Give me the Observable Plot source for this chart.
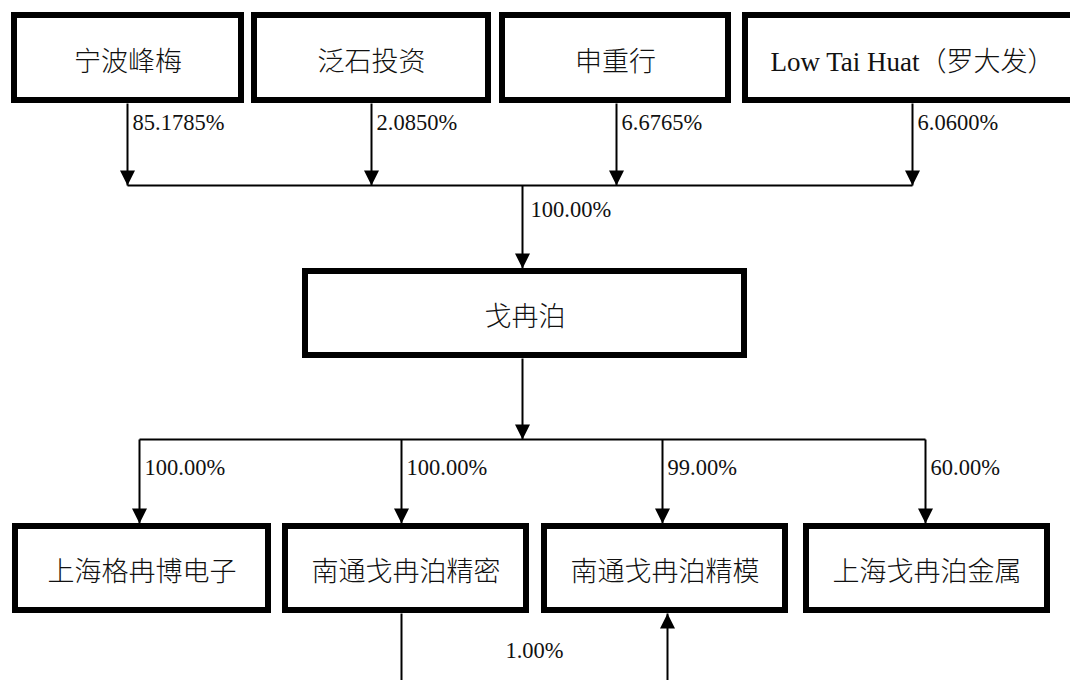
<!DOCTYPE html>
<html>
<head>
<meta charset="utf-8">
<script src="https://cdn.jsdelivr.net/npm/d3@7"></script>
<script src="https://cdn.jsdelivr.net/npm/@observablehq/plot@0.6"></script>
<style>
  html, body { margin: 0; padding: 0; background: #fff; overflow: hidden; }
  #chart svg { display: block; }
</style>
</head>
<body>
<div id="chart"></div>
<script>
// ---------------- DATA ----------------
const shareholders = ["宁波峰梅", "泛石投资", "申重行", "Low Tai Huat（罗大发）"];
const shareholderPct = ["85.1785%", "2.0850%", "6.6765%", "6.0600%"];
const company = "戈冉泊";
const companyPct = "100.00%";
const subsidiaries = ["上海格冉博电子", "南通戈冉泊精密", "南通戈冉泊精模", "上海戈冉泊金属"];
const subsidiaryPct = ["100.00%", "100.00%", "99.00%", "60.00%"];
const crossFrom = "南通戈冉泊精密";
const crossTo = "南通戈冉泊精模";
const crossPct = "1.00%";

// ---------------- LAYOUT (diagram geometry) ----------------
const W = 1070, H = 680;
const layout = {
  top: { y1: 12, y2: 103, boxes: [[11, 244], [251, 491], [499, 731], [742, 1082]], arrowX: [127, 371, 616, 912] },
  busTop: 185,
  mid: { x1: 302, x2: 747, y1: 268, y2: 358, stemX: 522 },
  busBottom: 439,
  bottom: { y1: 523, y2: 613, boxes: [[12, 271], [282, 529], [541, 788], [803, 1050]], arrowX: [139, 401, 662, 925] },
  crossX: [401, 667],
  crossBottom: 700
};
const BORDER = 6, LINE = 2;
const serif = "Liberation Serif, Times New Roman, Noto Sans CJK SC, serif";

// boxes
const boxes = [
  ...shareholders.map((name, i) => ({ name, x1: layout.top.boxes[i][0], x2: layout.top.boxes[i][1], y1: layout.top.y1, y2: layout.top.y2 })),
  { name: company, x1: layout.mid.x1, x2: layout.mid.x2, y1: layout.mid.y1, y2: layout.mid.y2 },
  ...subsidiaries.map((name, i) => ({ name, x1: layout.bottom.boxes[i][0], x2: layout.bottom.boxes[i][1], y1: layout.bottom.y1, y2: layout.bottom.y2 }))
];
const boxRects = boxes.map(b => ({ ...b, x1: b.x1 + BORDER / 2, x2: b.x2 - BORDER / 2, y1: b.y1 + BORDER / 2, y2: b.y2 - BORDER / 2 }));
const boxLabels = boxes.map(b => ({ name: b.name, x: (b.x1 + b.x2) / 2, y: (b.y1 + b.y2) / 2 + 4 }));

// connector lines
const links = [];
const heads = [];   // tip positions
const pctLabels = [];
shareholders.forEach((s, i) => {
  const x = layout.top.arrowX[i];
  links.push({ x1: x, y1: layout.top.y2, x2: x, y2: layout.busTop });
  heads.push({ x, y: layout.busTop, rot: 0 });
  pctLabels.push({ text: shareholderPct[i], x: x + 5, y: 122 });
});
links.push({ x1: layout.top.arrowX[0], y1: layout.busTop, x2: layout.top.arrowX[3], y2: layout.busTop });
links.push({ x1: layout.mid.stemX, y1: layout.busTop, x2: layout.mid.stemX, y2: layout.mid.y1 });
heads.push({ x: layout.mid.stemX, y: layout.mid.y1, rot: 0 });
pctLabels.push({ text: companyPct, x: layout.mid.stemX + 8, y: 209 });
links.push({ x1: layout.mid.stemX, y1: layout.mid.y2, x2: layout.mid.stemX, y2: layout.busBottom });
heads.push({ x: layout.mid.stemX, y: layout.busBottom, rot: 0 });
links.push({ x1: layout.bottom.arrowX[0], y1: layout.busBottom, x2: layout.bottom.arrowX[3], y2: layout.busBottom });
subsidiaries.forEach((s, i) => {
  const x = layout.bottom.arrowX[i];
  links.push({ x1: x, y1: layout.busBottom, x2: x, y2: layout.bottom.y1 });
  heads.push({ x, y: layout.bottom.y1, rot: 0 });
  pctLabels.push({ text: subsidiaryPct[i], x: x + 5, y: 467 });
});
// cross holding: 精密 -> 精模
const fromIdx = subsidiaries.indexOf(crossFrom), toIdx = subsidiaries.indexOf(crossTo);
links.push({ x1: layout.crossX[0], y1: layout.bottom.y2, x2: layout.crossX[0], y2: layout.crossBottom });
links.push({ x1: layout.crossX[0], y1: layout.crossBottom, x2: layout.crossX[1], y2: layout.crossBottom });
links.push({ x1: layout.crossX[1], y1: layout.crossBottom, x2: layout.crossX[1], y2: layout.bottom.y2 });
heads.push({ x: layout.crossX[1], y: layout.bottom.y2, rot: 180 });
const crossLabel = [{ text: crossPct, x: (layout.crossX[0] + layout.crossX[1]) / 2, y: 650, from: fromIdx, to: toIdx }];

// custom filled arrowhead whose tip is at the dot position (pointing down)
const arrowHead = {
  draw(ctx) {
    ctx.moveTo(0, 0);
    ctx.lineTo(-7.5, -15);
    ctx.lineTo(7.5, -15);
    ctx.closePath();
  }
};

const chart = Plot.plot({
  width: W,
  height: H,
  margin: 0,
  x: { domain: [0, W], range: [0, W], axis: null },
  y: { domain: [0, H], range: [0, H], axis: null },
  style: { background: "#fff" },
  marks: [
    Plot.link(links, { x1: "x1", y1: "y1", x2: "x2", y2: "y2", stroke: "#000", strokeWidth: LINE }),
    Plot.rect(boxRects, { x1: "x1", x2: "x2", y1: "y1", y2: "y2", fill: "#fff", stroke: "#000", strokeWidth: BORDER }),
    Plot.dot(heads, { x: "x", y: "y", rotate: "rot", symbol: arrowHead, r: 6, fill: "#000", stroke: "none" }),
    Plot.text(boxLabels, { x: "x", y: "y", text: "name", fontSize: 27, fontFamily: serif, fontWeight: 300, fill: "#111", textAnchor: "middle" }),
    Plot.text(pctLabels, { x: "x", y: "y", text: "text", fontSize: 22.5, fontFamily: serif, fill: "#111", textAnchor: "start" }),
    Plot.text(crossLabel, { x: "x", y: "y", text: "text", fontSize: 22.5, fontFamily: serif, fill: "#111", textAnchor: "middle" })
  ]
});
document.getElementById("chart").appendChild(chart);
</script>
</body>
</html>
